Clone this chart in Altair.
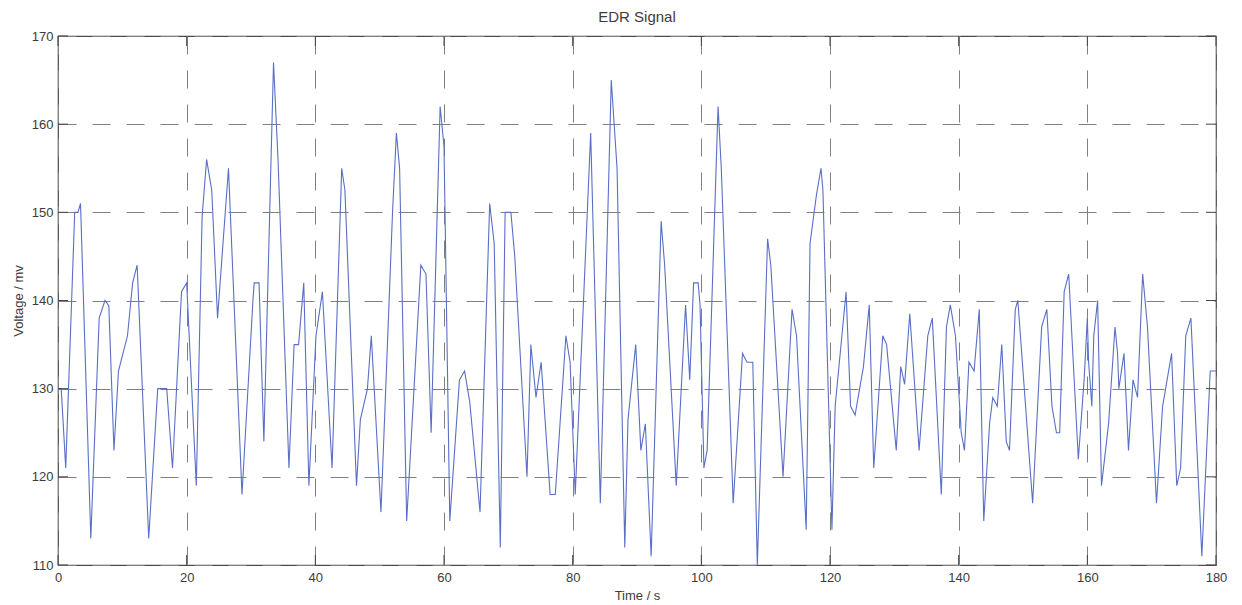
import altair as alt
import pandas as pd

# EDR signal samples: time (s) and voltage (mv)
time_s = [
    0.0, 0.5, 1.2, 2.6, 3.1, 3.5, 5.1, 6.4, 7.3, 7.9, 8.7, 9.4, 10.8, 11.6, 12.3,
    14.1, 15.5, 16.9, 17.8, 19.2, 20.0, 21.5, 22.4, 23.1, 23.9, 24.8, 26.5, 28.6,
    30.3, 30.5, 31.25, 32.0, 33.5, 34.2, 35.9, 36.7, 37.4, 38.2, 39.0, 40.1, 41.1,
    42.6, 44.1, 44.6, 46.4, 47.0, 48.1, 48.7, 50.2, 52.0, 52.6, 53.1, 54.2, 56.4,
    57.2, 58.0, 59.4, 60.0, 60.9, 62.4, 63.2, 64.0, 65.6, 67.1, 67.8, 68.75, 69.5,
    70.4, 71.0, 72.9, 73.5, 74.3, 75.1, 76.5, 77.3, 78.95, 79.6, 80.4, 82.8, 84.3,
    86.0, 86.9, 88.1, 88.6, 89.8, 90.6, 91.3, 92.2, 93.75, 94.3, 96.1, 97.55, 98.2,
    98.8, 99.5, 99.8, 100.4, 100.9, 102.6, 103.1, 104.95, 106.4, 107.1, 108.0,
    108.7, 110.3, 110.8, 112.7, 114.1, 114.8, 116.3, 116.9, 117.9, 118.6, 118.9,
    120.3, 120.8, 122.5, 123.2, 123.9, 125.2, 126.1, 126.8, 128.2, 128.8, 130.3,
    131.0, 131.6, 132.4, 133.85, 135.2, 135.9, 137.3, 138.1, 138.7, 139.5, 140.4,
    140.9, 141.6, 142.4, 143.2, 143.9, 144.8, 145.3, 146.0, 146.7, 147.4, 147.9,
    148.8, 149.2, 150.0, 151.5, 152.9, 153.7, 154.5, 155.2, 155.7, 156.4, 157.1,
    158.6, 159.5, 160.0, 160.2, 160.7, 161.0, 161.6, 162.2, 163.3, 164.3, 164.7,
    164.9, 165.7, 166.4, 167.1, 167.8, 168.6, 169.35, 170.75, 171.7, 173.1, 173.9,
    174.5, 175.3, 176.1, 177.8, 179.1, 180.0,
]
voltage_mv = [
    130, 130, 121, 150, 150, 151, 113, 138, 140, 139.4, 123, 132, 136, 142, 144,
    113, 130, 130, 121, 141, 142, 119, 149.5, 156, 152.5, 138, 155, 118,
    140, 142, 142, 124, 167, 156, 121, 135, 135, 142, 119, 136, 141,
    121, 155, 152.5, 119, 126.5, 130, 136, 116, 150, 159, 155, 115, 144,
    143, 125, 162, 157.5, 115, 131, 132, 128.5, 116, 151, 146.5, 112, 150,
    150, 145, 120, 135, 129, 133, 118, 118, 136, 133, 118, 159, 117,
    165, 155, 112, 126.5, 135, 123, 126, 111, 149, 144, 119, 139.5, 131,
    142, 142, 139.5, 121, 123, 162, 155, 117, 134, 133, 133,
    110, 147, 144, 120, 139, 136, 114, 146.5, 152, 155, 152.5,
    114, 128, 141, 128, 127, 132.5, 139.5, 121, 136, 135, 123,
    132.5, 130.5, 138.5, 123, 136, 138, 118, 137, 139.5, 136, 125,
    123, 133, 132, 139, 115, 126, 129, 128, 135, 124, 123,
    139, 140, 132, 117, 137, 139, 128, 125, 125, 141, 143,
    122, 131, 138, 133, 128, 136, 140, 119, 126, 137, 134,
    130, 134, 123, 131, 129, 143, 137, 117, 128, 134, 119,
    121, 136, 138, 111, 132, 132,
]

x_ticks = [0, 20, 40, 60, 80, 100, 120, 140, 160, 180]
y_ticks = [110, 120, 130, 140, 150, 160, 170]

W, H = 1158, 529
FONT = "Liberation Sans"
TEXT = "#3c3c3c"
GRID = "#808080"
TICK_LEN = 10

signal = pd.DataFrame({"t": time_s, "v": voltage_mv})
xt = pd.DataFrame({"t": x_ticks})
yt = pd.DataFrame({"v": y_ticks})

x_scale = alt.Scale(domain=[0, 180], nice=False, zero=False)
y_scale = alt.Scale(domain=[110, 170], nice=False, zero=False)

x_axis = alt.Axis(
    values=x_ticks, title="Time / s", grid=True, gridDash=[18, 16],
    gridColor=GRID, gridOpacity=1, gridWidth=1, ticks=False, domain=False,
    labelFont=FONT, labelFontSize=13, labelColor=TEXT, labelPadding=6,
    labelFlush=False,
    titleFont=FONT, titleFontSize=13, titleFontWeight="normal",
    titleColor=TEXT, titleY=30, titleBaseline="middle",
)
y_axis = alt.Axis(
    values=y_ticks, title="Voltage / mv", grid=True, gridDash=[18, 16],
    gridColor=GRID, gridOpacity=1, gridWidth=1, ticks=False, domain=False,
    labelFont=FONT, labelFontSize=13, labelColor=TEXT, labelPadding=5,
    labelFlush=False,
    titleFont=FONT, titleFontSize=13, titleFontWeight="normal",
    titleColor=TEXT, titleX=-40, titleBaseline="middle",
)

line = alt.Chart(signal).mark_line(color="#5a6fc6", strokeWidth=1.1).encode(
    x=alt.X("t:Q", scale=x_scale, axis=x_axis),
    y=alt.Y("v:Q", scale=y_scale, axis=y_axis),
)

tick_style = dict(color="#444444", strokeWidth=1)

# inward tick marks on all four sides of the axes box
bottom_ticks = alt.Chart(xt).mark_rule(**tick_style).encode(
    x=alt.X("t:Q", scale=x_scale), y=alt.value(H), y2=alt.value(H - TICK_LEN)
)
top_ticks = alt.Chart(xt).mark_rule(**tick_style).encode(
    x=alt.X("t:Q", scale=x_scale), y=alt.value(0), y2=alt.value(TICK_LEN)
)
left_ticks = alt.Chart(yt).mark_rule(**tick_style).encode(
    y=alt.Y("v:Q", scale=y_scale), x=alt.value(0), x2=alt.value(TICK_LEN)
)
right_ticks = alt.Chart(yt).mark_rule(**tick_style).encode(
    y=alt.Y("v:Q", scale=y_scale), x=alt.value(W), x2=alt.value(W - TICK_LEN)
)

chart = (
    alt.layer(line, bottom_ticks, top_ticks, left_ticks, right_ticks)
    .properties(
        width=W,
        height=H,
        title=alt.TitleParams(
            "EDR Signal", font=FONT, fontSize=15, fontWeight="normal",
            color=TEXT, offset=5, anchor="middle",
        ),
        autosize=alt.AutoSizeParams(type="none"),
        padding={"left": 58, "top": 36, "right": 26, "bottom": 40},
        background="white",
    )
    .configure_view(stroke="#4a4a4a", strokeWidth=1.2)
)

chart.save("out.html", embed_options={"renderer": "svg", "actions": False})
